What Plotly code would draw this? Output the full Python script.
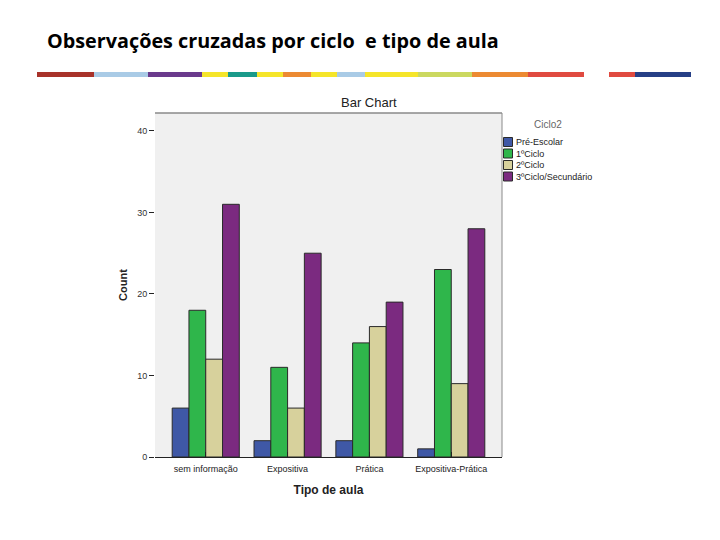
import plotly.graph_objects as go

categories = ["sem informação", "Expositiva", "Prática", "Expositiva-Prática"]
series_names = ["Pré-Escolar", "1ºCiclo", "2ºCiclo", "3ºCiclo/Secundário"]
pre_escolar = [6, 2, 2, 1]
ciclo1 = [18, 11, 14, 23]
ciclo2 = [12, 6, 16, 9]
ciclo3 = [31, 25, 19, 28]
y_ticks = [0, 10, 20, 30, 40]
colors = ["#3f58a6", "#2fb64b", "#d7d19c", "#7b2a80"]

W, H = 720, 540
L, R, T, B = 155, 502, 113, 457

def px(x):
    return (x - L) / (R - L)

def py(y):
    return (B - y) / (B - T)

fig = go.Figure()
for name, vals, col in zip(series_names, [pre_escolar, ciclo1, ciclo2, ciclo3], colors):
    fig.add_trace(go.Bar(x=categories, y=vals, name=name, marker_color=col,
                         marker_line=dict(color="#2a2a2a", width=1), showlegend=False))

fig.update_layout(
    width=W, height=H,
    margin=dict(l=L, r=W - R, t=T, b=H - B, pad=0),
    paper_bgcolor="white", plot_bgcolor="#f0f0f0",
    barmode="group", bargap=0.18, bargroupgap=0,
    font=dict(family="Liberation Sans, Arial, sans-serif", size=9, color="#333"),
    showlegend=False,
    xaxis=dict(range=[-0.62, 3.62], showgrid=False, ticks="inside", ticklen=5,
               tickcolor="#222", showline=True, linecolor="#222", linewidth=1,
               tickfont=dict(size=9, color="#222"), ticklabelstandoff=3,
               title=dict(text="<b>Tipo de aula</b>", font=dict(size=12, color="#222"), standoff=12)),
    yaxis=dict(range=[0, 42.2], showgrid=False, tickvals=y_ticks, ticks="outside",
               ticklen=5, tickcolor="#222", showline=False, zeroline=False,
               tickfont=dict(size=9, color="#333"),
               title=dict(text="<b>Count</b>", font=dict(size=11, color="#222"), standoff=7)),
)

# frame lines (top, right)
fig.add_shape(type="line", xref="paper", yref="paper", x0=0, x1=1, y0=1, y1=1,
              line=dict(color="#8a8a8a", width=1.5))
fig.add_shape(type="line", xref="paper", yref="paper", x0=1, x1=1, y0=0, y1=1,
              line=dict(color="#8a8a8a", width=1))

# custom legend
fig.add_annotation(text="Ciclo2", xref="paper", yref="paper", x=px(548), y=py(125),
                   xanchor="center", yanchor="middle", showarrow=False,
                   font=dict(size=10, color="#666"))
row_y = [142, 153.5, 165, 176.5]
for name, col, ry in zip(series_names, colors, row_y):
    fig.add_shape(type="rect", xref="paper", yref="paper", x0=px(503.5), x1=px(512.5),
                  y0=py(ry + 4.5), y1=py(ry - 4.5), fillcolor=col,
                  line=dict(color="#2a2a2a", width=1))
    fig.add_annotation(text=name, xref="paper", yref="paper", x=px(514), y=py(ry),
                       xanchor="left", yanchor="middle", showarrow=False,
                       font=dict(size=9, color="#222"))

# decorative stripe
stripe = [(37, 94, "#a8322a"), (94, 148, "#a9cbe6"), (148, 202, "#6a3a8c"),
          (202, 228, "#f5e52a"), (228, 257, "#1a9a8a"), (257, 283, "#f5e52a"),
          (283, 311, "#ec8a32"), (311, 337, "#f5e52a"), (337, 365, "#a9cbe6"),
          (365, 418, "#f5e52a"), (418, 472, "#cbd860"), (472, 528, "#ec8a32"),
          (528, 584, "#e04a40"), (609, 635, "#e04a40"), (635, 691, "#263f86")]
for x0, x1, c in stripe:
    fig.add_shape(type="rect", xref="paper", yref="paper", x0=px(x0), x1=px(x1),
                  y0=py(77), y1=py(72), fillcolor=c, line=dict(width=0), layer="above")

fig.add_annotation(text="<b>Observações cruzadas por ciclo  e tipo de aula</b>",
                   xref="paper", yref="paper", x=px(45), y=py(40), xanchor="left",
                   yanchor="middle", showarrow=False,
                   font=dict(family="Open Sans, sans-serif", size=19.8, color="#000"))
fig.add_annotation(text="Bar Chart", xref="paper", yref="paper", x=px(369), y=py(103),
                   xanchor="center", yanchor="middle", showarrow=False,
                   font=dict(family="Liberation Sans, Arial", size=13, color="#222"))

fig.write_html("out.html", config={"displayModeBar": False},
               post_script="document.body.style.margin='0';")
